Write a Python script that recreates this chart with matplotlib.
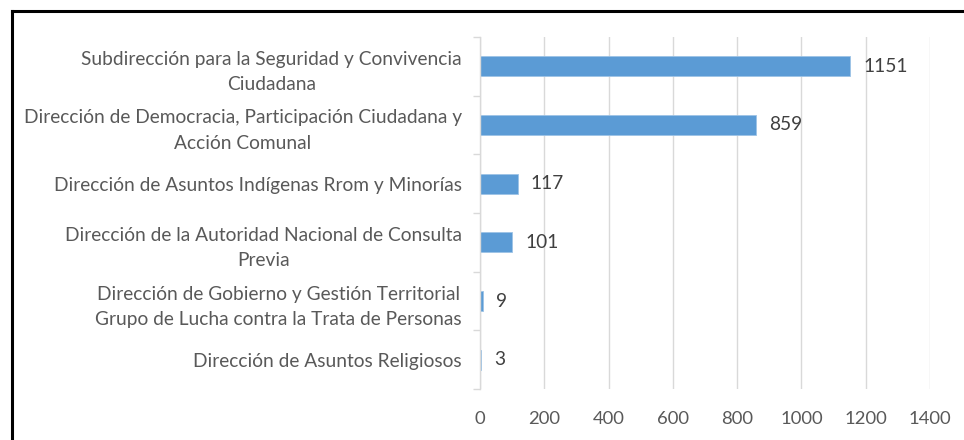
import matplotlib
matplotlib.use("Agg")
import matplotlib.pyplot as plt
import numpy as np
from matplotlib.lines import Line2D

categories = [
    "Subdirección para la Seguridad y Convivencia\nCiudadana",
    "Dirección de Democracia, Participación Ciudadana y\nAcción Comunal",
    "Dirección de Asuntos Indígenas Rrom y Minorías",
    "Dirección de la Autoridad Nacional de Consulta\nPrevia",
    "Dirección de Gobierno y Gestión Territorial\nGrupo de Lucha contra la Trata de Personas",
    "Dirección de Asuntos Religiosos",
]
values = [1151, 859, 117, 101, 9, 3]
xticks = [0, 200, 400, 600, 800, 1000, 1200, 1400]

plt.rcParams['font.family'] = ['Lato', 'DejaVu Sans']
text_color = "#595959"
bar_color = "#5B9BD5"
grid_color = "#D9D9D9"

fig = plt.figure(figsize=(9.64, 4.40), dpi=100)
ax = fig.add_axes([480/964, 1 - 389/440, 450/964, 352/440])

n = len(categories)
ypos = np.arange(n)
ax.barh(ypos, values, height=0.34, color=bar_color, edgecolor="#9DC3E6", linewidth=0.6, zorder=3)
ax.set_ylim(n - 0.5, -0.5)
ax.set_xlim(0, 1400)
ax.set_xticks(xticks)
ax.set_xticklabels([str(t) for t in xticks])
ax.set_yticks(ypos)
ax.set_yticklabels(categories, multialignment="center", linespacing=1.6)

ax.tick_params(axis="x", length=0, labelsize=13.3, labelcolor=text_color, pad=16)
ax.tick_params(axis="y", which="major", length=0, labelsize=13.8, labelcolor=text_color, pad=13)
ax.set_yticks(np.arange(-0.5, n, 1.0), minor=True)
ax.tick_params(axis="y", which="minor", length=5, color=grid_color, width=1)

ax.grid(axis="x", color=grid_color, linewidth=1, zorder=0)
for s in ["top", "right", "bottom"]:
    ax.spines[s].set_visible(False)
ax.spines["left"].set_color(grid_color)
ax.spines["left"].set_linewidth(1)
ax.spines["left"].set_zorder(4)

for y, v in zip(ypos, values):
    ax.annotate(str(v), xy=(v, y), xytext=(9.5, 0), textcoords="offset points",
                va="center", ha="left", fontsize=13.8, color="#404040")

# outer frame (left and top edges visible)
fig.add_artist(Line2D([11.5/964, 11.5/964], [0, 1 - 11.5/440], transform=fig.transFigure,
                      color="black", linewidth=2.2))
fig.add_artist(Line2D([11.5/964, 1], [1 - 11.5/440, 1 - 11.5/440], transform=fig.transFigure,
                      color="black", linewidth=2.2))

fig.savefig("out.png", dpi=100)
